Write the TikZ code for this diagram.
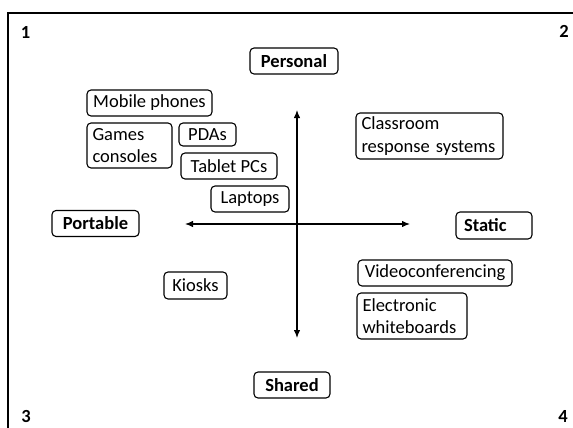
\documentclass[tikz,border=0pt]{standalone}
\usepackage{fontspec}
\setmainfont{Carlito}
\usetikzlibrary{arrows.meta}
\tikzset{
  box/.style={draw, rounded corners=4pt, line width=1.1pt, inner xsep=5.5pt, inner ysep=0pt,
    minimum height=26pt, font=\fontsize{18.5}{22.5}\selectfont},
  bbox/.style={box, font=\fontsize{18.5}{22.5}\selectfont\bfseries},
  mbox/.style={box, align=left},
  corner/.style={font=\fontsize{18.5}{22.5}\selectfont\bfseries, inner sep=0pt},
  axis/.style={line width=1.2pt, {Latex[length=8pt,width=6.5pt]}-{Latex[length=8pt,width=6.5pt]}}
}
\begin{document}
\begin{tikzpicture}[x=1pt,y=-1pt]
\useasboundingbox (0,0) rectangle (573,428);
\begin{scope}
\clip (0,0) rectangle (573,428);
\draw[line width=2pt] (8,13) rectangle (590,445);
\end{scope}
\node[corner] (n1) at (25.5,32) {1};
\node[corner] (n2) at (564,31) {2};
\node[corner] (n3) at (26,416) {3};
\node[corner] (n4) at (563,416) {4};

\node[bbox, minimum width=88pt] (personal) at (294,61) {Personal};
\node[bbox, minimum width=87pt] (portable) at (95.5,223.5) {Portable};
\node[bbox, minimum height=27pt, text width=60pt, inner xsep=8pt, align=left] (static) at (494,225.5) {Static};
\node[bbox, minimum width=76pt] (shared) at (292,385) {Shared};

\node[box, minimum width=125pt] (mobile) at (149.5,103) {Mobile phones};
\node[mbox, text width=74pt, minimum height=45pt] (games) at (129.5,145.5) {Games\\consoles};
\node[box, minimum width=57pt, minimum height=23pt] (pdas) at (207.5,134.5) {PDAs};
\node[box, minimum width=96pt] (tablet) at (229,166) {Tablet PCs};
\node[box, minimum width=78pt] (laptops) at (250,199) {Laptops};
\node[box, minimum width=63pt, minimum height=27pt] (kiosks) at (195.5,285.5) {Kiosks};
\node[mbox, text width=136pt, minimum height=46pt] (crs) at (429.5,136) {Classroom\\response systems};
\node[box, minimum width=154pt] (video) at (435,273) {Videoconferencing};
\node[mbox, text width=99pt, minimum height=46pt] (ewb) at (412,316) {Electronic\\whiteboards};

\coordinate (top) at (297,110);
\coordinate (bottom) at (297,338);
\coordinate (left) at (185,224);
\coordinate (right) at (410,224);
\draw[axis] (top) -- (bottom);
\draw[axis] (left) -- (right);
\end{tikzpicture}
\end{document}
